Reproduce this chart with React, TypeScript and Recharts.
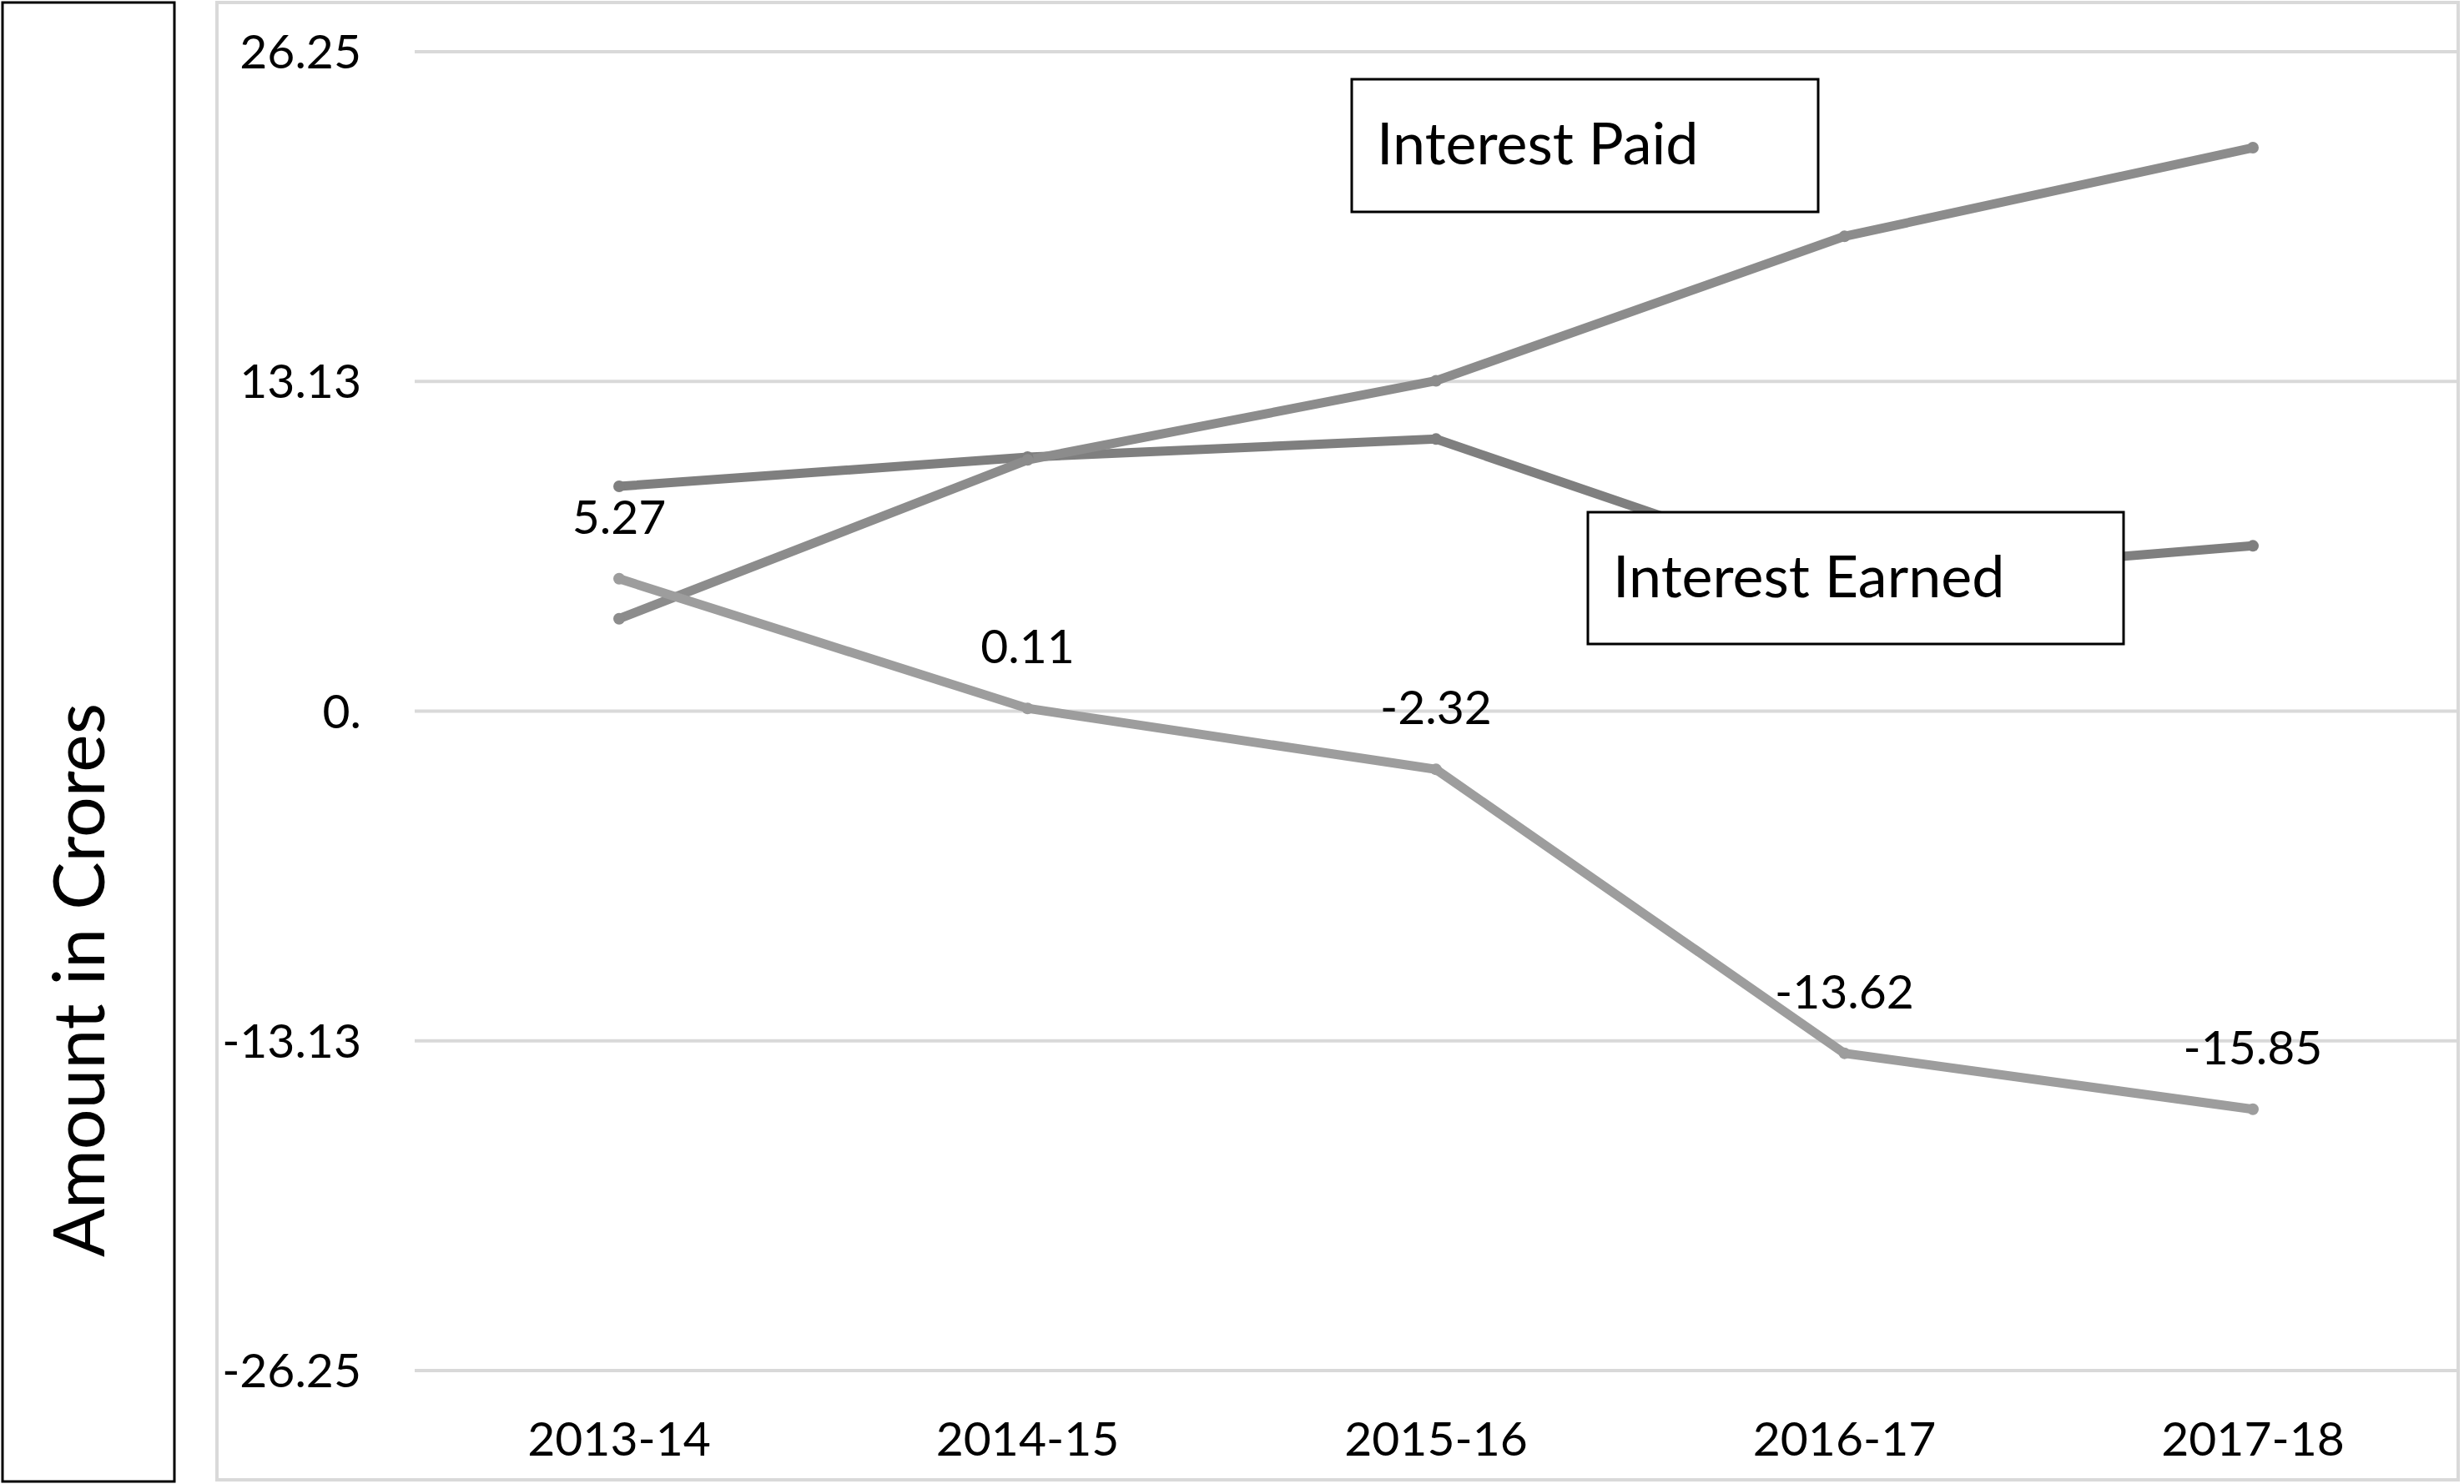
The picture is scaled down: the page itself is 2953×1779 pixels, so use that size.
import React from "react";
import { LineChart, Line, XAxis, YAxis, CartesianGrid, LabelList } from "recharts";

const FONT = "Lato, 'Open Sans', sans-serif";

const years = ["2013-14", "2014-15", "2015-16", "2016-17", "2017-18"];
const interestEarned = [8.95, 10.11, 10.83, 5.28, 6.58];
const interestPaid = [3.68, 10.0, 13.15, 18.9, 22.43];
const netInterest = [5.27, 0.11, -2.32, -13.62, -15.85];

const yTicks = [-26.25, -13.125, 0, 13.125, 26.25];
const yTickLabels = ["-26.25", "-13.13", "0.", "13.13", "26.25"];

const data = years.map((year, i) => ({
  year,
  earned: interestEarned[i],
  paid: interestPaid[i],
  net: netInterest[i],
}));

const NetLabel = (props: any) => {
  const { x, y, value } = props;
  return (
    <text
      x={x}
      y={y - 76}
      textAnchor="middle"
      dominantBaseline="central"
      fontSize={57}
      fontFamily={FONT}
      fill="#000"
    >
      {Number(value).toFixed(2)}
    </text>
  );
};

export default function App() {
  const tickStyle = { fontSize: 57, fill: "#000", fontFamily: FONT };

  return (
    <div
      style={{
        position: "absolute",
        left: 0,
        top: 0,
        width: 2953,
        height: 1779,
        background: "#fff",
        fontFamily: FONT,
      }}
    >
      <LineChart
        width={2953}
        height={1779}
        data={data}
        margin={{ top: 62, right: 8, bottom: 0, left: 260 }}
      >
        <CartesianGrid vertical={false} stroke="#d9d9d9" strokeWidth={4} />
        <XAxis
          dataKey="year"
          axisLine={false}
          tickLine={false}
          tickSize={0}
          tickMargin={62}
          height={136}
          interval={0}
          padding={{ left: 245, right: 245 }}
          tick={tickStyle}
        />
        <YAxis
          domain={[-26.25, 26.25]}
          ticks={yTicks}
          tickFormatter={(v: number) => yTickLabels[yTicks.indexOf(v)] ?? String(v)}
          axisLine={false}
          tickLine={false}
          tickSize={0}
          tickMargin={64}
          width={237}
          tick={tickStyle}
        />
        <Line
          dataKey="earned"
          stroke="#7f7f7f"
          strokeWidth={11}
          dot={{ r: 7, fill: "#7f7f7f", stroke: "none" }}
          activeDot={false}
          isAnimationActive={false}
        />
        <Line
          dataKey="paid"
          stroke="#8c8c8c"
          strokeWidth={11}
          dot={{ r: 7, fill: "#8c8c8c", stroke: "none" }}
          activeDot={false}
          isAnimationActive={false}
        />
        <Line
          dataKey="net"
          stroke="#9d9d9d"
          strokeWidth={11}
          dot={{ r: 7, fill: "#9d9d9d", stroke: "none" }}
          activeDot={false}
          isAnimationActive={false}
        >
          <LabelList dataKey="net" content={NetLabel} />
        </Line>
      </LineChart>

      <svg
        width={2953}
        height={1779}
        style={{ position: "absolute", left: 0, top: 0, pointerEvents: "none" }}
      >
        <rect x={260} y={3} width={2686} height={1771} fill="none" stroke="#d9d9d9" strokeWidth={4} />
        <rect x={3} y={3} width={206} height={1773} fill="#fff" stroke="#000" strokeWidth={3} />
        <text
          transform="translate(125,1175) rotate(-90)"
          textAnchor="middle"
          fontSize={86}
          fontFamily={FONT}
          fill="#000"
        >
          Amount in Crores
        </text>

        <rect x={1620} y={95} width={559} height={159} fill="#fff" stroke="#000" strokeWidth={3} />
        <text x={1650} y={197} fontSize={70} fontFamily={FONT} fill="#000">
          Interest Paid
        </text>

        <rect x={1903} y={614} width={642} height={158} fill="#fff" stroke="#000" strokeWidth={3} />
        <text x={1933} y={716} fontSize={70} fontFamily={FONT} fill="#000">
          Interest Earned
        </text>
      </svg>
    </div>
  );
}
